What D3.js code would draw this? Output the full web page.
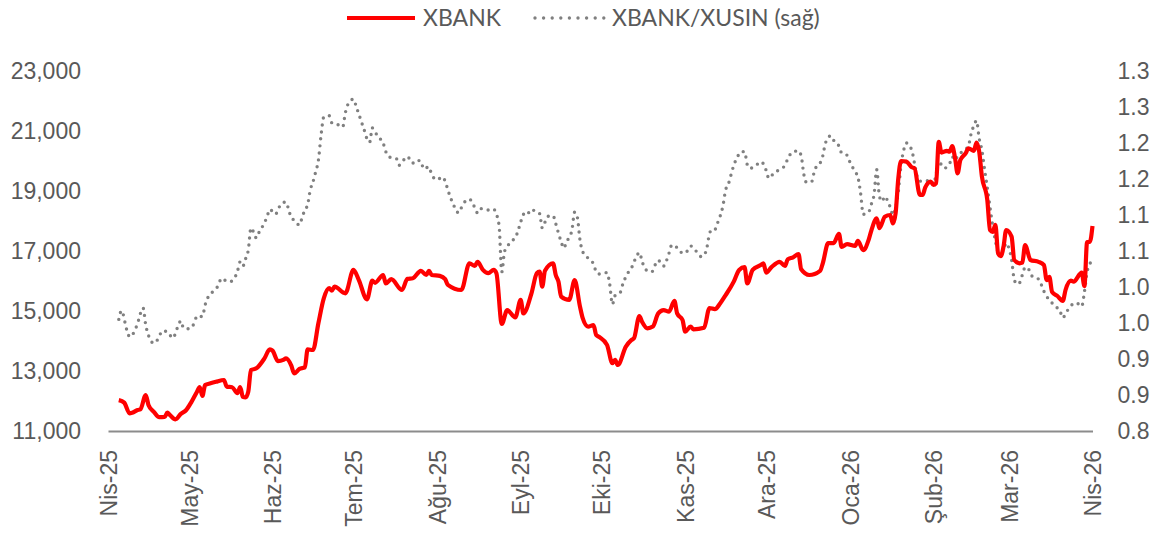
<!DOCTYPE html>
<html>
<head>
<meta charset="utf-8">
<script src="https://cdn.jsdelivr.net/npm/d3@7"></script>
<style>
    body { margin: 0; background: #fff; }
    svg { display: block; font-family: Lato, "Open Sans", sans-serif; }
    .tick-label { fill: #595959; font-size: 23px; }
    .legend-label { fill: #595959; font-size: 23px; }
</style>
</head>
<body>
<svg id="chart" width="1154" height="533"></svg>
<script>
// XBANK index level (left axis)
const xbank = [
    ["2025-04-05",12030],["2025-04-07",11945],["2025-04-09",11590],["2025-04-10",11610],["2025-04-12",11700],
    ["2025-04-13",11720],["2025-04-15",12200],["2025-04-16",11870],["2025-04-18",11640],["2025-04-20",11460],
    ["2025-04-22",11470],["2025-04-23",11610],["2025-04-24",11530],["2025-04-26",11390],["2025-04-28",11570],
    ["2025-04-30",11700],["2025-05-02",11980],["2025-05-04",12310],["2025-05-05",12460],["2025-05-06",12170],
    ["2025-05-07",12530],["2025-05-09",12590],["2025-05-11",12640],["2025-05-14",12700],["2025-05-15",12480],
    ["2025-05-17",12460],["2025-05-19",12260],["2025-05-20",12460],["2025-05-21",12140],["2025-05-22",12120],
    ["2025-05-23",12310],["2025-05-24",13030],["2025-05-26",13090],["2025-05-29",13420],["2025-05-31",13720],
    ["2025-06-01",13680],["2025-06-03",13330],["2025-06-05",13370],["2025-06-06",13420],["2025-06-08",13170],
    ["2025-06-09",12920],["2025-06-11",13070],["2025-06-13",13120],["2025-06-14",13720],["2025-06-16",13700],
    ["2025-06-18",14590],["2025-06-20",15420],["2025-06-22",15760],["2025-06-23",15680],["2025-06-24",15810],
    ["2025-06-28",15590],["2025-07-01",16370],["2025-07-03",16030],["2025-07-06",15390],["2025-07-08",16010],
    ["2025-07-09",15940],["2025-07-12",16200],["2025-07-13",15920],["2025-07-15",16060],["2025-07-19",15700],
    ["2025-07-21",16070],["2025-07-23",16090],["2025-07-26",16340],["2025-07-28",16200],["2025-07-29",16340],
    ["2025-07-30",16200],["2025-08-02",16170],["2025-08-04",16060],["2025-08-05",15870],["2025-08-10",15700],
    ["2025-08-13",16590],["2025-08-15",16500],["2025-08-16",16640],["2025-08-18",16370],["2025-08-20",16260],
    ["2025-08-22",16370],["2025-08-23",16260],["2025-08-25",14570],["2025-08-27",15030],["2025-08-30",14790],
    ["2025-09-01",15370],["2025-09-02",14920],["2025-09-05",15590],["2025-09-07",16260],["2025-09-08",16310],
    ["2025-09-09",15810],["2025-09-10",16340],["2025-09-13",16590],["2025-09-14",16200],["2025-09-15",15980],
    ["2025-09-16",15480],["2025-09-19",15370],["2025-09-21",16030],["2025-09-23",15140],["2025-09-24",14760],
    ["2025-09-26",14480],["2025-09-28",14530],["2025-09-29",14200],["2025-09-30",14140],["2025-10-03",13870],
    ["2025-10-05",13260],["2025-10-06",13370],["2025-10-07",13200],["2025-10-10",13810],["2025-10-12",14030],
    ["2025-10-13",14090],["2025-10-15",14830],["2025-10-16",14640],["2025-10-18",14420],["2025-10-20",14480],
    ["2025-10-22",14920],["2025-10-24",15030],["2025-10-26",14980],["2025-10-28",15340],["2025-10-29",14920],
    ["2025-10-31",14700],["2025-11-01",14310],["2025-11-03",14480],["2025-11-04",14390],["2025-11-08",14440],
    ["2025-11-10",15100],["2025-11-12",15060],["2025-11-14",15260],["2025-11-16",15530],["2025-11-19",15980],
    ["2025-11-21",16370],["2025-11-23",16460],["2025-11-24",15920],["2025-11-26",16370],["2025-11-29",16530],
    ["2025-11-30",16590],["2025-12-01",16280],["2025-12-03",16460],["2025-12-06",16640],["2025-12-08",16500],
    ["2025-12-09",16720],["2025-12-11",16790],["2025-12-13",16900],["2025-12-14",16390],["2025-12-17",16200],
    ["2025-12-21",16340],["2025-12-22",16590],["2025-12-24",17260],["2025-12-26",17260],["2025-12-28",17570],
    ["2025-12-29",17140],["2025-12-31",17230],["2026-01-03",17170],["2026-01-04",17340],["2026-01-06",17030],
    ["2026-01-08",17370],["2026-01-09",17680],["2026-01-11",18090],["2026-01-12",17760],["2026-01-14",18140],
    ["2026-01-16",18200],["2026-01-17",17920],["2026-01-18",18260],["2026-01-19",19420],["2026-01-20",20000],
    ["2026-01-22",19980],["2026-01-24",19790],["2026-01-25",19760],["2026-01-27",18870],["2026-01-28",18870],
    ["2026-01-29",19120],["2026-01-31",19310],["2026-02-01",19200],["2026-02-02",19260],["2026-02-03",20640],
    ["2026-02-04",20280],["2026-02-06",20340],["2026-02-07",20310],["2026-02-08",20500],["2026-02-09",20120],
    ["2026-02-10",19590],["2026-02-11",20030],["2026-02-13",20260],["2026-02-14",20420],["2026-02-16",20340],
    ["2026-02-17",20610],["2026-02-18",20310],["2026-02-19",19480],["2026-02-21",18700],["2026-02-22",17700],
    ["2026-02-23",17640],["2026-02-24",17870],["2026-02-25",16920],["2026-02-26",16830],["2026-02-27",17140],
    ["2026-02-28",17700],["2026-03-02",17480],["2026-03-03",16700],["2026-03-05",16590],["2026-03-06",16610],
    ["2026-03-07",17200],["2026-03-09",16700],["2026-03-12",16640],["2026-03-14",16530],["2026-03-15",16030],
    ["2026-03-16",16140],["2026-03-17",15640],["2026-03-19",15500],["2026-03-21",15340],["2026-03-22",15700],
    ["2026-03-24",16010],["2026-03-25",15980],["2026-03-28",16280],["2026-03-29",15830],["2026-03-30",17300],
    ["2026-03-31",17300],["2026-04-01",17830]
];

// XBANK/XUSIN ratio (right axis)
const ratio = [
    ["2025-04-05",0.955],["2025-04-06",0.967],["2025-04-08",0.940],["2025-04-09",0.931],["2025-04-11",0.940],
    ["2025-04-12",0.950],["2025-04-14",0.971],["2025-04-15",0.947],["2025-04-16",0.933],["2025-04-18",0.922],
    ["2025-04-20",0.931],["2025-04-21",0.939],["2025-04-23",0.938],["2025-04-25",0.929],["2025-04-27",0.946],
    ["2025-04-28",0.953],["2025-04-29",0.943],["2025-05-01",0.942],["2025-05-03",0.950],["2025-05-04",0.960],
    ["2025-05-06",0.959],["2025-05-07",0.975],["2025-05-08",0.985],["2025-05-10",0.994],["2025-05-12",1.003],
    ["2025-05-13",1.012],["2025-05-14",1.010],["2025-05-16",1.007],["2025-05-18",1.013],["2025-05-19",1.022],
    ["2025-05-20",1.035],["2025-05-21",1.029],["2025-05-22",1.039],["2025-05-23",1.051],["2025-05-24",1.082],
    ["2025-05-25",1.076],["2025-05-26",1.068],["2025-05-27",1.076],["2025-05-29",1.089],["2025-05-30",1.098],
    ["2025-05-31",1.108],["2025-06-02",1.101],["2025-06-03",1.106],["2025-06-04",1.115],["2025-06-06",1.118],
    ["2025-06-07",1.107],["2025-06-08",1.096],["2025-06-09",1.093],["2025-06-11",1.086],["2025-06-12",1.097],
    ["2025-06-13",1.107],["2025-06-14",1.114],["2025-06-15",1.135],["2025-06-16",1.146],["2025-06-17",1.160],
    ["2025-06-18",1.176],["2025-06-19",1.211],["2025-06-20",1.236],["2025-06-22",1.238],["2025-06-23",1.228],
    ["2025-06-25",1.226],["2025-06-27",1.222],["2025-06-28",1.242],["2025-06-29",1.254],["2025-07-01",1.261],
    ["2025-07-02",1.251],["2025-07-03",1.240],["2025-07-04",1.229],["2025-07-05",1.218],["2025-07-06",1.206],
    ["2025-07-07",1.201],["2025-07-08",1.221],["2025-07-10",1.209],["2025-07-12",1.200],["2025-07-13",1.188],
    ["2025-07-14",1.181],["2025-07-17",1.178],["2025-07-18",1.169],["2025-07-20",1.178],["2025-07-21",1.181],
    ["2025-07-23",1.172],["2025-07-24",1.176],["2025-07-26",1.175],["2025-07-27",1.164],["2025-07-29",1.167],
    ["2025-07-30",1.156],["2025-08-01",1.149],["2025-08-03",1.153],["2025-08-04",1.147],["2025-08-05",1.135],
    ["2025-08-06",1.124],["2025-08-07",1.115],["2025-08-09",1.103],["2025-08-10",1.110],["2025-08-12",1.121],
    ["2025-08-13",1.122],["2025-08-14",1.118],["2025-08-15",1.110],["2025-08-16",1.103],["2025-08-17",1.109],
    ["2025-08-19",1.107],["2025-08-21",1.107],["2025-08-22",1.108],["2025-08-23",1.101],["2025-08-24",1.085],
    ["2025-08-25",1.021],["2025-08-26",1.049],["2025-08-27",1.056],["2025-08-29",1.065],["2025-08-30",1.068],
    ["2025-08-31",1.078],["2025-09-01",1.090],["2025-09-02",1.101],["2025-09-03",1.099],["2025-09-05",1.108],
    ["2025-09-07",1.103],["2025-09-08",1.102],["2025-09-09",1.082],["2025-09-10",1.090],["2025-09-11",1.098],
    ["2025-09-13",1.099],["2025-09-14",1.088],["2025-09-15",1.075],["2025-09-16",1.063],["2025-09-17",1.054],
    ["2025-09-18",1.063],["2025-09-19",1.069],["2025-09-20",1.079],["2025-09-21",1.104],["2025-09-22",1.097],
    ["2025-09-23",1.065],["2025-09-24",1.049],["2025-09-26",1.040],["2025-09-28",1.032],["2025-09-29",1.021],
    ["2025-09-30",1.018],["2025-10-01",1.019],["2025-10-03",1.020],["2025-10-04",1.004],["2025-10-05",0.976],
    ["2025-10-06",0.988],["2025-10-07",0.990],["2025-10-08",0.993],["2025-10-09",1.006],["2025-10-10",1.014],
    ["2025-10-11",1.021],["2025-10-12",1.026],["2025-10-14",1.043],["2025-10-15",1.048],["2025-10-16",1.036],
    ["2025-10-17",1.026],["2025-10-19",1.021],["2025-10-20",1.022],["2025-10-21",1.032],["2025-10-22",1.037],
    ["2025-10-24",1.029],["2025-10-25",1.036],["2025-10-26",1.047],["2025-10-27",1.058],["2025-10-28",1.058],
    ["2025-10-30",1.049],["2025-11-01",1.047],["2025-11-03",1.057],["2025-11-05",1.050],["2025-11-07",1.042],
    ["2025-11-08",1.044],["2025-11-09",1.054],["2025-11-10",1.074],["2025-11-11",1.080],["2025-11-12",1.080],
    ["2025-11-13",1.089],["2025-11-14",1.099],["2025-11-15",1.113],["2025-11-16",1.135],["2025-11-17",1.143],
    ["2025-11-18",1.156],["2025-11-19",1.169],["2025-11-20",1.178],["2025-11-22",1.188],["2025-11-23",1.188],
    ["2025-11-24",1.170],["2025-11-25",1.165],["2025-11-27",1.168],["2025-11-29",1.174],["2025-11-30",1.171],
    ["2025-12-01",1.162],["2025-12-02",1.151],["2025-12-04",1.159],["2025-12-06",1.163],["2025-12-08",1.169],
    ["2025-12-09",1.178],["2025-12-11",1.188],["2025-12-13",1.189],["2025-12-14",1.182],["2025-12-15",1.156],
    ["2025-12-16",1.145],["2025-12-18",1.147],["2025-12-19",1.163],["2025-12-21",1.172],["2025-12-22",1.182],
    ["2025-12-23",1.200],["2025-12-25",1.210],["2025-12-26",1.204],["2025-12-27",1.199],["2025-12-28",1.196],
    ["2025-12-29",1.186],["2025-12-31",1.183],["2026-01-01",1.174],["2026-01-03",1.160],["2026-01-04",1.153],
    ["2026-01-05",1.131],["2026-01-06",1.101],["2026-01-08",1.104],["2026-01-09",1.115],["2026-01-10",1.128],
    ["2026-01-11",1.163],["2026-01-12",1.126],["2026-01-13",1.119],["2026-01-14",1.126],["2026-01-15",1.120],
    ["2026-01-16",1.111],["2026-01-17",1.100],["2026-01-18",1.110],["2026-01-19",1.132],["2026-01-20",1.169],
    ["2026-01-21",1.190],["2026-01-22",1.200],["2026-01-24",1.190],["2026-01-25",1.172],["2026-01-26",1.153],
    ["2026-01-27",1.147],["2026-01-29",1.147],["2026-01-31",1.149],["2026-02-01",1.143],["2026-02-02",1.156],
    ["2026-02-03",1.174],["2026-02-05",1.165],["2026-02-07",1.171],["2026-02-08",1.181],["2026-02-09",1.176],
    ["2026-02-10",1.182],["2026-02-12",1.189],["2026-02-14",1.196],["2026-02-15",1.213],["2026-02-16",1.224],
    ["2026-02-17",1.231],["2026-02-18",1.206],["2026-02-19",1.190],["2026-02-20",1.163],["2026-02-21",1.138],
    ["2026-02-22",1.111],["2026-02-23",1.085],["2026-02-24",1.064],["2026-02-25",1.049],["2026-02-26",1.047],
    ["2026-02-27",1.051],["2026-02-28",1.061],["2026-03-01",1.054],["2026-03-02",1.038],["2026-03-03",1.010],
    ["2026-03-04",1.004],["2026-03-05",1.006],["2026-03-06",1.017],["2026-03-07",1.027],["2026-03-08",1.027],
    ["2026-03-09",1.018],["2026-03-10",1.014],["2026-03-12",1.011],["2026-03-14",0.994],["2026-03-15",0.987],
    ["2026-03-16",0.982],["2026-03-18",0.974],["2026-03-20",0.966],["2026-03-21",0.957],["2026-03-22",0.963],
    ["2026-03-24",0.974],["2026-03-26",0.978],["2026-03-28",0.973],["2026-03-29",0.993],["2026-03-30",1.021],
    ["2026-03-31",1.032],["2026-04-01",1.038]
];

const monthTicks = ["2025-04-01","2025-05-01","2025-06-01","2025-07-01","2025-08-01","2025-09-01","2025-10-01",
    "2025-11-01","2025-12-01","2026-01-01","2026-02-01","2026-03-01","2026-04-01"];
const monthLabels = ["Nis-25","May-25","Haz-25","Tem-25","Ağu-25","Eyl-25","Eki-25",
    "Kas-25","Ara-25","Oca-26","Şub-26","Mar-26","Nis-26"];

const leftTicks = [11000, 13000, 15000, 17000, 19000, 21000, 23000];
const rightTicks = [0.80, 0.85, 0.90, 0.95, 1.00, 1.05, 1.10, 1.15, 1.20, 1.25, 1.30];
const rightLabels = ["0.8","0.9","0.9","1.0","1.0","1.1","1.1","1.2","1.2","1.3","1.3"];

const seriesNames = ["XBANK", "XBANK/XUSIN (sağ)"];

const RED = "#ff0000";
const GREY = "#808080";
const DOTS = "0 7";

const parse = d3.utcParse("%Y-%m-%d");
const svg = d3.select("#chart");

const plot = { left: 108, right: 1092.5, top: 71, bottom: 431 };

const x = d3.scaleUtc()
    .domain([parse(monthTicks[0]), parse(monthTicks[monthTicks.length - 1])])
    .range([plot.left, plot.right]);

const yLeft = d3.scaleLinear()
    .domain([leftTicks[0], leftTicks[leftTicks.length - 1]])
    .range([plot.bottom, plot.top]);

const yRight = d3.scaleLinear()
    .domain([rightTicks[0], rightTicks[rightTicks.length - 1]])
    .range([plot.bottom, plot.top]);

const styleLabels = sel => sel
    .attr("class", "tick-label")
    .attr("font-size", null)
    .attr("font-family", null)
    .attr("fill", null);

// left axis
const leftAxis = svg.append("g")
    .attr("transform", `translate(${ plot.left - 27 },0)`)
    .call(d3.axisLeft(yLeft).tickValues(leftTicks).tickFormat(d3.format(",")).tickSize(0).tickPadding(0));
leftAxis.select(".domain").remove();
leftAxis.selectAll("text").call(styleLabels);

// right axis
const rightAxis = svg.append("g")
    .attr("transform", `translate(${ plot.right + 25 },0)`)
    .call(d3.axisRight(yRight).tickValues(rightTicks).tickFormat((d, i) => rightLabels[i]).tickSize(0).tickPadding(0));
rightAxis.select(".domain").remove();
rightAxis.selectAll("text").call(styleLabels);

// bottom axis
const bottomAxis = svg.append("g")
    .attr("transform", `translate(0,${ plot.bottom })`)
    .call(d3.axisBottom(x).tickValues(monthTicks.map(parse)).tickFormat((d, i) => monthLabels[i]).tickSize(0));
bottomAxis.select(".domain")
    .attr("stroke", "#8c8c8c")
    .attr("stroke-width", 2);
bottomAxis.selectAll("text")
    .call(styleLabels)
    .attr("text-anchor", "end")
    .attr("transform", "rotate(-90)")
    .attr("x", -19)
    .attr("y", 0)
    .attr("dy", "0.36em");

// lines
const ratioLine = d3.line()
    .x(d => x(parse(d[0])))
    .y(d => yRight(d[1]))
    .curve(d3.curveMonotoneX);

const xbankLine = d3.line()
    .x(d => x(parse(d[0])))
    .y(d => yLeft(d[1]))
    .curve(d3.curveMonotoneX);

svg.append("path")
    .datum(ratio)
    .attr("d", ratioLine)
    .attr("fill", "none")
    .attr("stroke", GREY)
    .attr("stroke-width", 3.4)
    .attr("stroke-linecap", "round")
    .attr("stroke-dasharray", DOTS);

svg.append("path")
    .datum(xbank)
    .attr("d", xbankLine)
    .attr("fill", "none")
    .attr("stroke", RED)
    .attr("stroke-width", 4.2)
    .attr("stroke-linejoin", "round");

// legend
const legend = svg.append("g").attr("transform", "translate(0,18)");

legend.append("line")
    .attr("x1", 347).attr("x2", 415)
    .attr("stroke", RED)
    .attr("stroke-width", 4.2);
legend.append("text")
    .attr("class", "legend-label")
    .attr("x", 423)
    .attr("dy", "0.36em")
    .text(seriesNames[0]);

legend.append("line")
    .attr("x1", 535).attr("x2", 604)
    .attr("stroke", GREY)
    .attr("stroke-width", 3.4)
    .attr("stroke-linecap", "round")
    .attr("stroke-dasharray", "0 8.6");
legend.append("text")
    .attr("class", "legend-label")
    .attr("x", 612)
    .attr("dy", "0.36em")
    .text(seriesNames[1]);
</script>
</body>
</html>
